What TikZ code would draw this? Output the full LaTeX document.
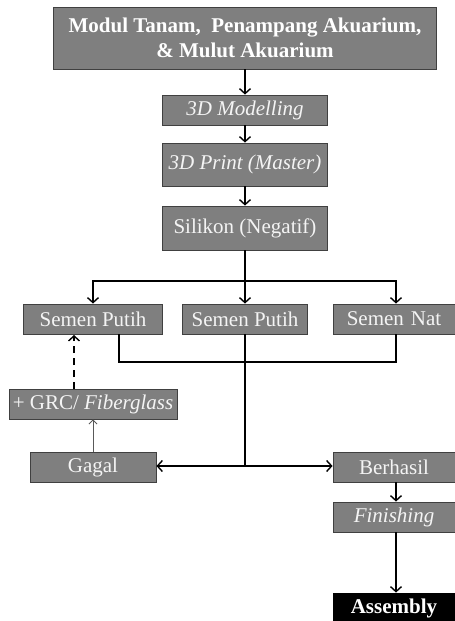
\documentclass[tikz,border=0pt]{standalone}
\usepackage{fontspec}
\setmainfont{Liberation Serif}
\usetikzlibrary{arrows.meta}
\definecolor{boxfill}{HTML}{7F7F7F}
\definecolor{boxline}{HTML}{404040}
\definecolor{boxtext}{HTML}{F4F4F4}
\begin{document}
\begin{tikzpicture}[x=1pt,y=-1pt,
  box/.style={draw=boxline,line width=0.9pt,fill=boxfill,text=boxtext,inner sep=0pt,
    font=\fontsize{21}{25}\selectfont,align=center},
  conn/.style={line width=1.4pt,black},
  arr/.style={conn,-{Straight Barb[length=5pt,width=11pt,line width=1.4pt]}},
  thinarr/.style={line width=0.9pt,black!65,-{Straight Barb[length=4pt,width=8pt,line width=0.9pt]}},
  dasharr/.style={arr,dash pattern=on 7pt off 5pt}]
\useasboundingbox (0,0) rectangle (455,621);
\node[box,minimum width=383pt,minimum height=62pt,font=\fontsize{21}{25}\selectfont\bfseries,text=white] (top) at (245,38) {Modul Tanam,\ \ Penampang Akuarium,\\\& Mulut Akuarium};
\node[box,minimum width=165pt,minimum height=30pt] (mod) at (245,110) {\itshape 3D Modelling};
\node[box,minimum width=165pt,minimum height=43pt] (prt) at (245,164.5) {\itshape 3D Print (Master)};
\node[box,minimum width=165pt,minimum height=44pt] (sil) at (245,228) {Silikon (Negatif)};
\node[box,minimum width=139pt,minimum height=30pt] (sp1) at (93,319) {Semen Putih};
\node[box,minimum width=125pt,minimum height=30pt] (sp2) at (245,319) {Semen Putih};
\node[box,minimum width=125pt,minimum height=30pt,text width=122pt] (sn) at (395.5,319) {\hspace*{-3pt}Semen Nat};
\node[box,minimum width=168pt,minimum height=30pt] (grc) at (93,404) {+ GRC/ \itshape Fiberglass};
\node[box,minimum width=126pt,minimum height=30pt] (gag) at (93,467) {Gagal};
\node[box,minimum width=125pt,minimum height=30pt,text width=122pt] (ber) at (395.5,467) {\hspace*{-3pt}Berhasil};
\node[box,minimum width=125pt,minimum height=30pt,text width=122pt] (fin) at (395.5,517) {\hspace*{-3pt}\itshape Finishing};
\node[box,draw=black,fill=black,text=white,minimum width=125pt,minimum height=30pt,text width=122pt,font=\fontsize{21}{25}\selectfont\bfseries] (asm) at (395.5,608) {\hspace*{-3pt}Assembly};
% coordinates
\coordinate (j1) at (245,281);
\coordinate (j3) at (245,466);
\coordinate (bl) at (119,362);
\coordinate (snx) at (396,334);
% connectors
\draw[arr] (top.south) -- (mod.north);
\draw[arr] (mod.south) -- (prt.north);
\draw[arr] (prt.south) -- (sil.north);
\draw[conn] (sil.south) -- (j1);
\draw[arr] (j1) -| (sp1.north);
\draw[arr] (j1) -- (sp2.north);
\draw[arr] (j1) -| (snx |- sn.north);
\draw[conn] (bl |- sp1.south) -- (bl) -| (snx);
\draw[conn] (sp2.south) -- (j3);
\draw[arr] (j3) -- (gag.east |- j3);
\draw[arr] (j3) -- (ber.west |- j3);
\draw[thinarr] (gag.north) -- (grc.south);
\draw[dasharr] (74,389) -- (74,335);
\draw[arr] (snx |- ber.south) -- (snx |- fin.north);
\draw[arr] (snx |- fin.south) -- (snx |- asm.north);
\end{tikzpicture}
\end{document}
